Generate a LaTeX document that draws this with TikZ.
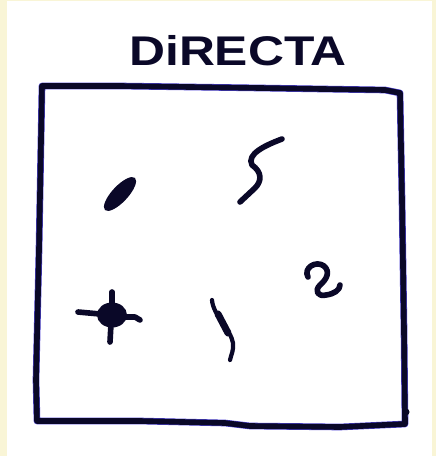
\documentclass[tikz,border=0pt]{standalone}
\usepackage{fontspec}
\setmainfont{Liberation Sans}
\definecolor{tinte}{RGB}{10,8,40}
\definecolor{saum}{RGB}{80,70,215}
\definecolor{papier}{RGB}{249,245,214}
\tikzset{%
		rahmen/.style={draw=tinte,line width=8pt,line join=round,line cap=round,
			preaction={draw=saum,line width=9.5pt,line join=round,line cap=round}},
		strich/.style={draw=tinte,line width=8pt,line cap=round,line join=round},
		titel/.style={font=\fontsize{59}{59}\selectfont\bfseries,text=tinte,xscale=1.2,inner sep=0pt}
	}

\begin{document}
\begin{tikzpicture}[x=0.05cm,y=-0.05cm]
      \fill[papier] (0,0) rectangle (436,456) ;
      \fill[white] (7,1) rectangle (432,456) ;
      \useasboundingbox (0,0) rectangle (436,456) ;
      \node[titel] (titel) at (238,51) {DiRECTA} ;
      % Rahmen
      \draw[rahmen] (42,86) -- (120,86) -- (260,88) -- (385,90) -- (400,93) -- (402,200) -- (404,330) -- (405,424)
        -- (340,427) -- (250,426) -- (225,423) -- (140,421) -- (37,421) -- (36,380) -- (39,250) -- cycle ;
      \fill[tinte] (406,412) circle (3.5) ;
      \begin{scope}
        % Blatt
        \fill[tinte,rotate around={47:(120,194)}] (120,194) ellipse (22 and 8) ;
        % S
        \draw[strich] (282,139) .. controls (266,145) and (246,154) .. (252,165) .. controls (262,172) and (262,181) .. (255,188) -- (240,202) ;
        % Kreuz
        \fill[tinte] (112,315) ellipse (15 and 12.5) ;
        \draw[strich] (78,312) -- (100,314) ;
        \draw[strich] (124,317) -- (135,317) -- (140,320) ;
        \draw[strich] (112,292) -- (112,306) ;
        \draw[strich] (111,324) -- (110,342) ;
        % Bogen
        \draw[strich,line width=6pt] (212,300) .. controls (213,315) and (231,330) .. (233,343) .. controls (234,350) and (231,355) .. (230,360) ;
        \draw[strich,line width=10pt] (218,314) -- (228,333) ;
        % Schnoerkel
        \draw[strich] (308,277) .. controls (303,268) and (316,260) .. (324,266) .. controls (331,272) and (326,280) .. (320,285)
          .. controls (314,291) and (318,297) .. (326,295) .. controls (334,294) and (340,290) .. (340,285) ;
      \end{scope}
\end{tikzpicture}
\end{document}
